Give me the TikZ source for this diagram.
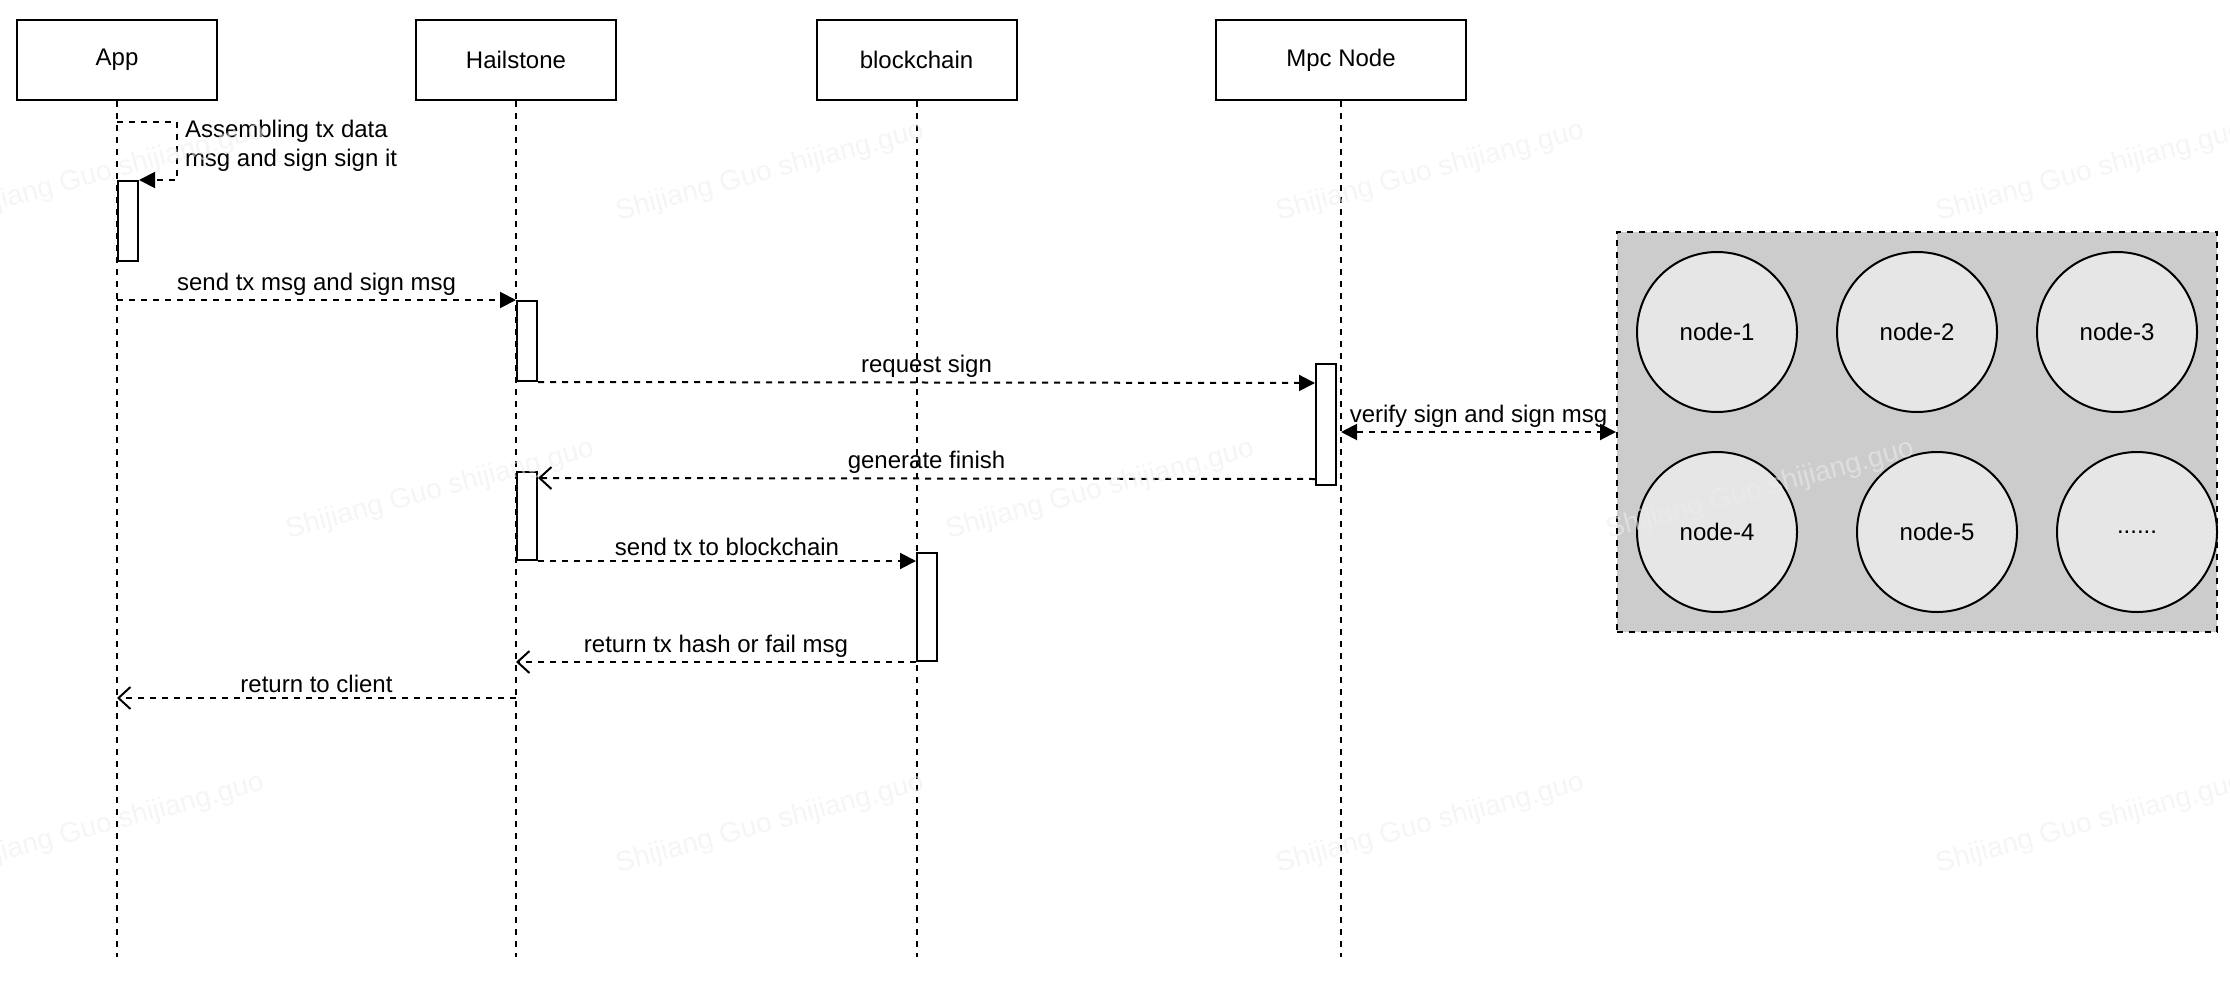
\documentclass[tikz,border=0pt]{standalone}
\usepackage{fontspec}
\setmainfont{Liberation Sans}
\usepackage{xcolor}
\usepackage{tikz}
\usetikzlibrary{arrows.meta,calc}

\definecolor{netgray}{HTML}{CCCCCC}
\definecolor{peergray}{HTML}{E6E6E6}

\begin{document}
\begin{tikzpicture}[x=1pt,y=-1pt,line width=1pt,
        font=\fontsize{12pt}{14.4pt}\selectfont,
        actor/.style={draw,rectangle,minimum width=100pt,minimum height=40pt},
        act/.style={draw,fill=white,rectangle,minimum width=10pt,inner sep=0pt},
        lifeline/.style={dash pattern=on 3pt off 3pt},
        msg/.style={dash pattern=on 3pt off 3pt},
        call/.style={msg,-{Triangle[length=8pt,width=8pt]}},
        reply/.style={msg,-{Straight Barb[length=6pt,width=11pt]}},
        lbl/.style={above,inner sep=2pt},
        peer/.style={draw,circle,fill=peergray,minimum size=80pt,inner sep=0pt},
        wmark/.style={rotate=15,text=black!7,text opacity=0.55,font=\fontsize{14pt}{16pt}\selectfont}]
        \useasboundingbox (0,0) rectangle (1115,492);
        \node[actor] (app) at (58.5,30) {App};
        \node[actor] (hail) at (258,30) {Hailstone};
        \node[actor] (chain) at (458.25,30) {blockchain};
        \node[actor,minimum width=125pt] (mpc) at (670.5,30) {Mpc Node};
        \foreach \n in {app,hail,chain,mpc}
            \draw[lifeline] (\n.south) -- (\n.south |- 0,478.5);
        \node[act,minimum height=40pt,anchor=north west] (appact) at (58.5,90) {};
        \node[act,minimum height=40pt,anchor=north west] (hailact1) at (258,150) {};
        \node[act,minimum height=60.5pt,anchor=north east] (mpcact) at (668.5,181.5) {};
        \node[act,minimum height=44pt,anchor=north west] (hailact2) at (258,235.5) {};
        \node[act,minimum height=54pt,anchor=north west] (chainact) at (458,276) {};
        \node[draw,rectangle,fill=netgray,dash pattern=on 3pt off 3pt,minimum width=300pt,minimum height=200pt] (mpcnet) at (958.5,216) {};
        \node[peer] (n1) at (858.5,166) {node-1};
        \node[peer] (n2) at (958.5,166) {node-2};
        \node[peer] (n3) at (1058.5,166) {node-3};
        \node[peer] (n4) at (858.5,266) {node-4};
        \node[peer] (n5) at (968.5,266) {node-5};
        \node[peer] (n6) at (1068.5,266) {......};
        \coordinate (selfa) at (58.5,61);
        \draw[call] (selfa) -- ++(30,0) |- (appact.north east);
        \node[anchor=west,align=left,inner sep=0pt] (selfl) at (92,73) {Assembling tx data\\msg and sign sign it};
        \draw[call] (app.south |- hailact1.north) -- node[lbl] (l1) {send tx msg and sign msg} (hailact1.north west);
        \draw[call] (hailact1.south east) -- node[lbl] (l2) {request sign} ($(mpcact.north west)+(0,10)$);
        \draw[msg,{Triangle[length=8pt,width=8pt]}-{Triangle[length=8pt,width=8pt]}] (mpc.south |- mpcnet.west) -- node[lbl] (l3) {verify sign and sign msg} (mpcnet.west);
        \draw[reply] ($(mpcact.south west)+(0,-3.5)$) -- node[lbl] (l4) {generate finish} ($(hailact2.north east)+(0,3.5)$);
        \draw[call] (hailact2.south east) -- node[lbl] (l5) {send tx to blockchain} (chainact.west |- hailact2.south);
        \draw[reply] (chainact.south west) -- node[lbl] (l6) {return tx hash or fail msg} (hail.south |- chainact.south);
        \coordinate (ret) at (258,349);
        \draw[reply] (ret) -- node[lbl] (l7) {return to client} (app.south |- ret);
        \foreach \x/\y [count=\i] in {55/86,385/86,715/86,1045/86,220/245,550/245,880/245,55/412,385/412,715/412,1045/412}
            \node[wmark] (wm\i) at (\x,\y) {Shijiang Guo shijiang.guo};
      \end{tikzpicture}
\end{document}
